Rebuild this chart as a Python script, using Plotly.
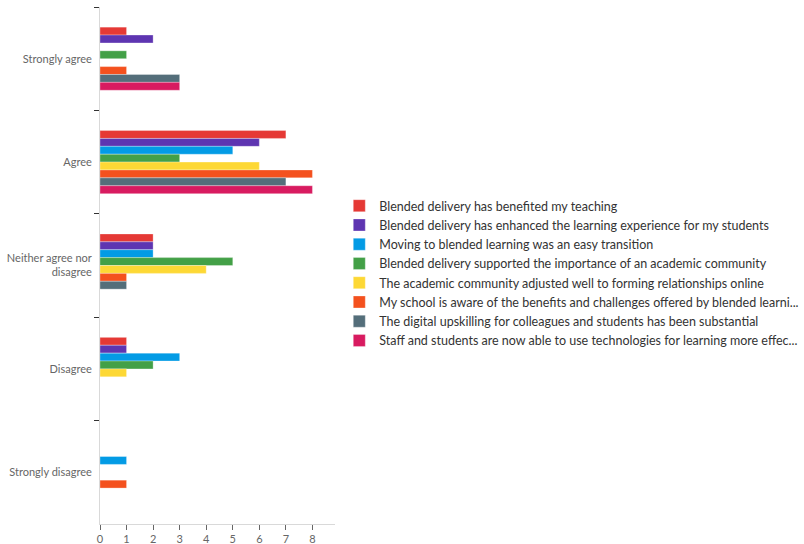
import plotly.graph_objects as go

categories = ["Strongly agree", "Agree", "Neither agree nor<br>disagree", "Disagree", "Strongly disagree"]

series_names = [
    "Blended delivery has benefited my teaching",
    "Blended delivery has enhanced the learning experience for my students",
    "Moving to blended learning was an easy transition",
    "Blended delivery supported the importance of an academic community",
    "The academic community adjusted well to forming relationships online",
    "My school is aware of the benefits and challenges offered by blended learni...",
    "The digital upskilling for colleagues and students has been substantial",
    "Staff and students are now able to use technologies for learning more effec...",
]

benefited_teaching = [1, 7, 2, 1, 0]
enhanced_learning = [2, 6, 2, 1, 0]
easy_transition = [0, 5, 2, 3, 1]
academic_community = [1, 3, 5, 2, 0]
relationships_online = [0, 6, 4, 1, 0]
school_aware = [1, 8, 1, 0, 1]
digital_upskilling = [3, 7, 1, 0, 0]
use_technologies = [3, 8, 0, 0, 0]

series_values = [benefited_teaching, enhanced_learning, easy_transition, academic_community,
                 relationships_online, school_aware, digital_upskilling, use_technologies]

colors = ["#E53935", "#5E35B1", "#039BE5", "#43A047", "#FDD835", "#F4511E", "#546E7A", "#D81B60"]

x_ticks = [0, 1, 2, 3, 4, 5, 6, 7, 8]

fig = go.Figure()
for name, vals, col in zip(series_names, series_values, colors):
    fig.add_trace(go.Bar(
        y=categories, x=vals, name=name, orientation="h",
        marker=dict(color=col, line=dict(color="rgba(255,255,255,0.6)", width=0.5)),
    ))

font_family = "Lato, Open Sans, sans-serif"
fig.update_layout(
    width=804, height=544,
    barmode="group",
    bargap=0.39, bargroupgap=0,
    plot_bgcolor="white", paper_bgcolor="white",
    margin=dict(l=100, r=469, t=7, b=20, autoexpand=False),
    font=dict(family=font_family, size=11, color="#666666"),
    legend=dict(
        xref="container", yref="container",
        x=0.422, y=0.498, xanchor="left", yanchor="middle",
        font=dict(size=12.5, color="#333333"),
        itemwidth=30, tracegroupgap=0,
        traceorder="normal",
    ),
    showlegend=True,
)
fig.update_yaxes(
    autorange="reversed",
    categoryorder="array", categoryarray=categories,
    showline=True, linecolor="#d9d9d9", linewidth=1,
    ticks="outside", tickson="boundaries", ticklen=5, tickcolor="#333333",
    showgrid=False, zeroline=False,
    tickfont=dict(size=11, color="#666666"),
    ticklabelstandoff=5,
)
fig.update_xaxes(
    range=[0, 8.85],
    tickvals=x_ticks,
    showline=True, linecolor="#d9d9d9", linewidth=1,
    ticks="outside", ticklen=5, tickcolor="#666666",
    showgrid=False, zeroline=False,
    tickfont=dict(size=11, color="#666666"),
)

fig.write_html("out.html")
